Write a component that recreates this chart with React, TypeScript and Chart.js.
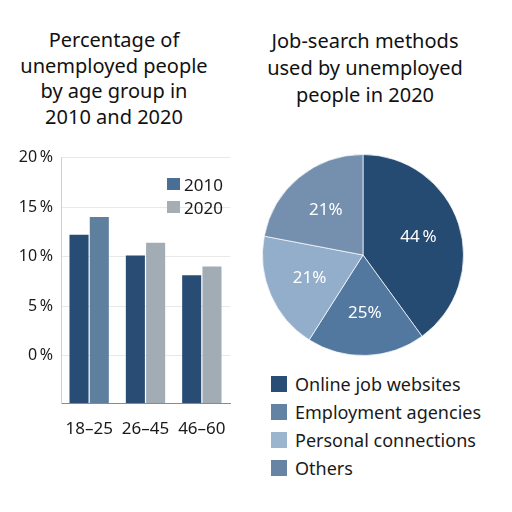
import React, { useEffect, useRef } from "react";
import { Chart, registerables } from "chart.js";

Chart.register(...registerables);

const ageGroups = ["18\u201325", "26\u201345", "46\u201360"];
const values2010 = [12.2, 10.1, 8.1];
const values2020 = [14.0, 11.4, 9.0];
const barYears = ["2010", "2020"];
const yTickValues = [0, 5, 10, 15, 20];

const methods = ["Online job websites", "Employment agencies", "Personal connections", "Others"];
const methodShares = [40, 19, 19, 22];
const methodLabels = ["44\u2009%", "25%", "21%", "21%"];

const FONT = "'Noto Sans', 'DejaVu Sans', sans-serif";

const bar2010Colors = ["#284c74", "#284c74", "#284c74"];
const bar2020Colors = ["#5f7f9f", "#a2acb5", "#a2acb5"];
const barLegendColors = ["#4a6e96", "#a5adb5"];
const pieColors = ["#264b73", "#52789f", "#93aecb", "#7590ae"];
const pieLegendColors = ["#2a4d75", "#6482a3", "#9bb5cf", "#6784a4"];

const Y_MIN = -4.8;

function BarChart() {
  const ref = useRef<HTMLCanvasElement | null>(null);
  useEffect(() => {
    if (!ref.current) return;
    const chart = new Chart(ref.current, {
      type: "bar",
      data: {
        labels: ageGroups,
        datasets: [
          { label: barYears[0], data: values2010, backgroundColor: bar2010Colors, base: Y_MIN } as any,
          { label: barYears[1], data: values2020, backgroundColor: bar2020Colors, base: Y_MIN } as any,
        ],
      },
      options: {
        responsive: false,
        animation: false,
        layout: { padding: { top: 17, right: 20, left: 0, bottom: 0 } },
        datasets: { bar: { categoryPercentage: 0.72, barPercentage: 0.94 } },
        plugins: { legend: { display: false }, tooltip: { enabled: false }, title: { display: false } },
        scales: {
          x: {
            afterFit: (s: any) => { s.height = 37; },
            grid: { display: false },
            border: { display: true, color: "#8a8a8a" },
            ticks: { font: { family: FONT, size: 17 }, color: "#1a1a1a", padding: 8 },
          },
          y: {
            min: Y_MIN,
            max: 20,
            afterFit: (s: any) => { s.width = 61; },
            afterBuildTicks: (s: any) => { s.ticks = yTickValues.map((v) => ({ value: v })); },
            grid: { color: "#e8e8e8", drawTicks: false },
            border: { display: true, color: "#d0d0d0" },
            ticks: {
              font: { family: FONT, size: 16 },
              color: "#1a1a1a",
              padding: 8,
              callback: (v: any) => `${v}\u2009%`,
            },
          },
        },
      },
    });
    return () => chart.destroy();
  }, []);
  return <canvas ref={ref} width={250} height={300} style={{ position: "absolute", left: 0, top: 140 }} />;
}

const pieLabelPlugin = {
  id: "pieLabels",
  afterDatasetsDraw(chart: any) {
    const ctx = chart.ctx;
    const meta = chart.getDatasetMeta(0);
    ctx.save();
    ctx.fillStyle = "#ffffff";
    ctx.font = `17px ${FONT}`;
    ctx.textAlign = "center";
    ctx.textBaseline = "middle";
    meta.data.forEach((arc: any, i: number) => {
      const p = arc.getProps(["x", "y", "startAngle", "endAngle", "outerRadius"], true);
      const mid = (p.startAngle + p.endAngle) / 2;
      const r = p.outerRadius * 0.58;
      ctx.fillText(methodLabels[i], p.x + Math.cos(mid) * r, p.y + Math.sin(mid) * r);
    });
    ctx.restore();
  },
};

function PieChart() {
  const ref = useRef<HTMLCanvasElement | null>(null);
  useEffect(() => {
    if (!ref.current) return;
    const chart = new Chart(ref.current, {
      type: "pie",
      data: {
        labels: methods,
        datasets: [
          {
            data: methodShares,
            backgroundColor: pieColors,
            borderColor: "rgba(255,255,255,0.7)",
            borderWidth: 1,
          },
        ],
      },
      options: {
        responsive: false,
        animation: false,
        layout: { padding: 4 },
        plugins: { legend: { display: false }, tooltip: { enabled: false } },
      },
      plugins: [pieLabelPlugin],
    });
    return () => chart.destroy();
  }, []);
  return <canvas ref={ref} width={210} height={210} style={{ position: "absolute", left: 258, top: 150 }} />;
}

const titleStyle: React.CSSProperties = {
  position: "absolute",
  fontFamily: FONT,
  fontSize: 20,
  color: "#111",
  textAlign: "center",
  whiteSpace: "nowrap",
};

export default function App() {
  return (
    <div style={{ position: "fixed", left: 0, top: 0, width: 512, height: 512, background: "#fff", overflow: "hidden" }}>
      <div style={{ ...titleStyle, left: 14, width: 200, top: 27, lineHeight: "25.5px" }}>
        Percentage of<br />unemployed people<br />by age group in<br />2010 and 2020
      </div>
      <div style={{ ...titleStyle, left: 265, width: 200, top: 27, lineHeight: "27px" }}>
        Job-search methods<br />used by unemployed<br />people in 2020
      </div>
      <BarChart />
      {barYears.map((y, i) => (
        <div key={y} style={{ position: "absolute", left: 167, top: 184 + i * 23 - 12, height: 24, display: "flex", alignItems: "center", fontFamily: FONT, fontSize: 17, color: "#1a1a1a" }}>
          <span style={{ display: "inline-block", width: 13, height: 12, background: barLegendColors[i], marginRight: 4 }} />
          {y}
        </div>
      ))}
      <PieChart />
      {methods.map((m, i) => (
        <div key={m} style={{ position: "absolute", left: 271, top: 384 + i * 28 - 13, height: 26, display: "flex", alignItems: "center", fontFamily: FONT, fontSize: 18, color: "#1a1a1a" }}>
          <span style={{ display: "inline-block", width: 16, height: 16, background: pieLegendColors[i], marginRight: 8 }} />
          {m}
        </div>
      ))}
    </div>
  );
}
